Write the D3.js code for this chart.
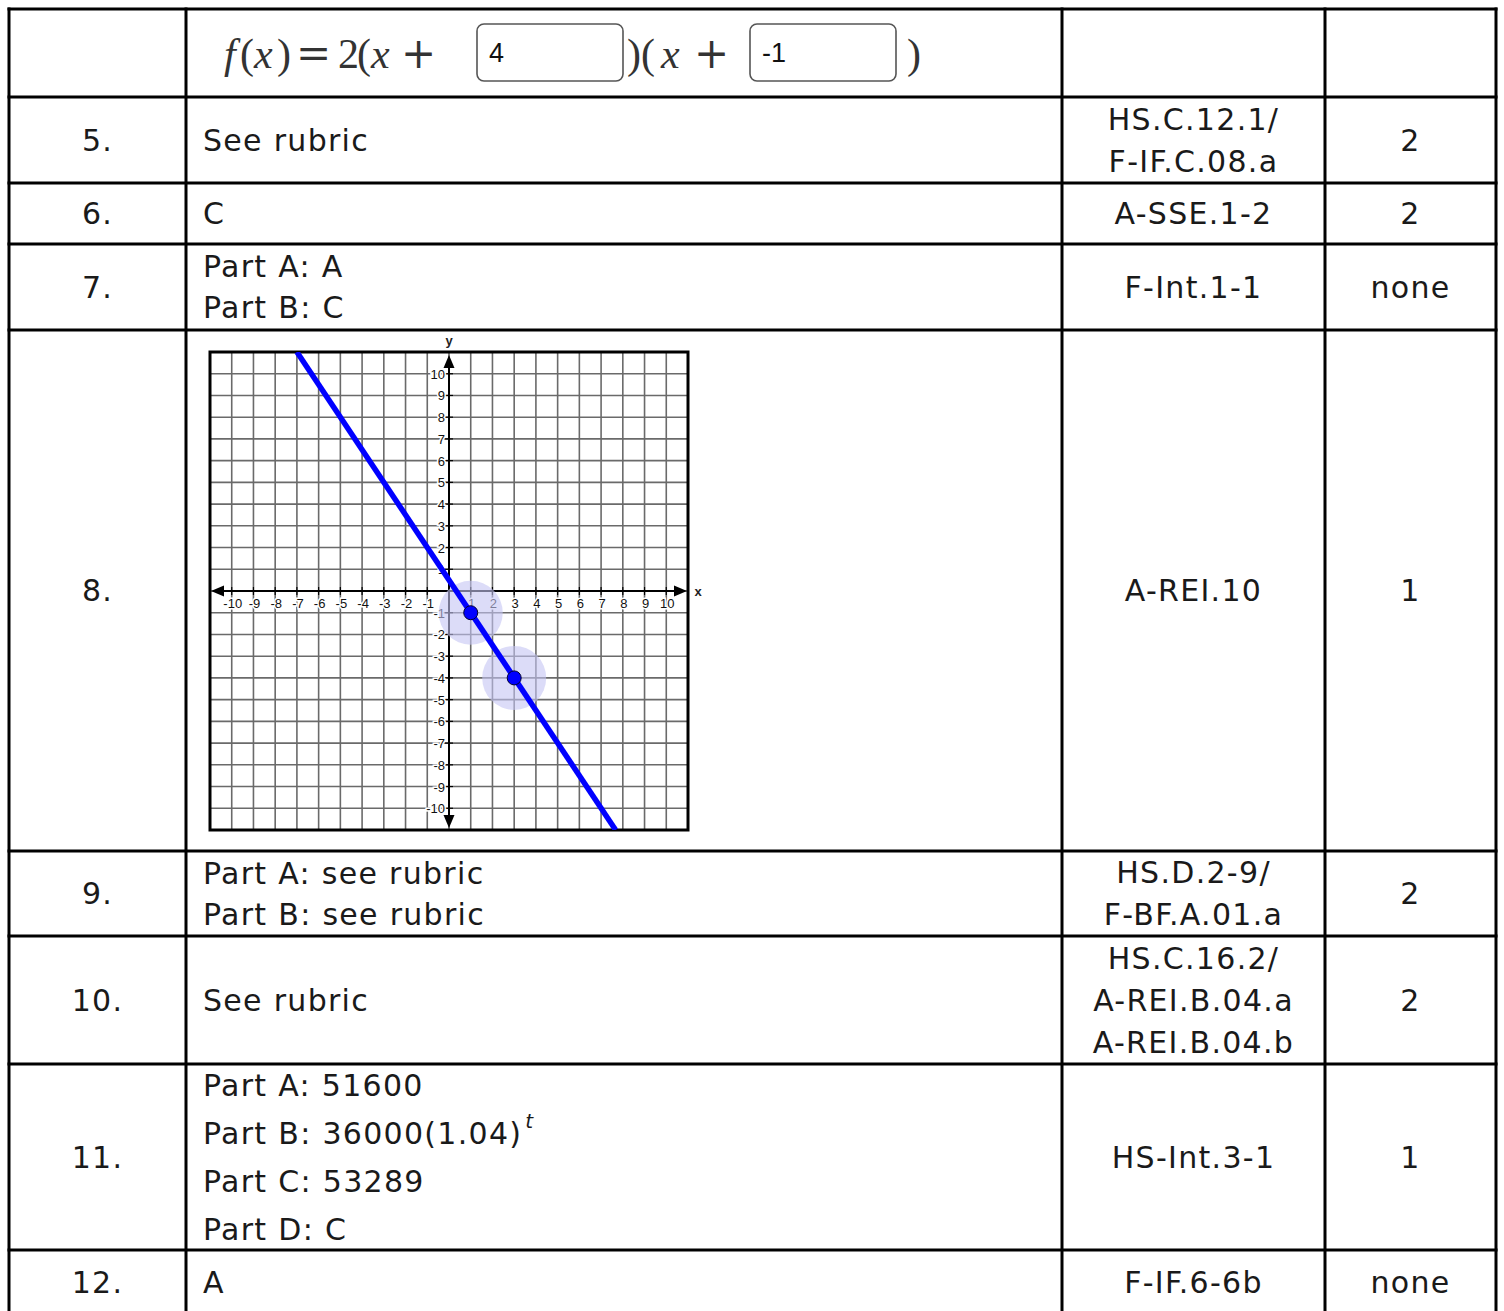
<!DOCTYPE html>
<html>
<head>
<meta charset="utf-8">
<script src="https://cdn.jsdelivr.net/npm/d3@7"></script>
<style>
  body { margin: 0; background: #fff; }
</style>
</head>
<body>
<div id="chart"></div>
<script>
// table data
const itemNums = ["", "5.", "6.", "7.", "8.", "9.", "10.", "11.", "12."];
const answers = [
  null,
  ["See rubric"],
  ["C"],
  ["Part A: A", "Part B: C"],
  null,
  ["Part A: see rubric", "Part B: see rubric"],
  ["See rubric"],
  ["Part A: 51600", "Part B: 36000(1.04)", "Part C: 53289", "Part D: C"],
  ["A"]
];
const standards = [
  [],
  ["HS.C.12.1/", "F-IF.C.08.a"],
  ["A-SSE.1-2"],
  ["F-Int.1-1"],
  ["A-REI.10"],
  ["HS.D.2-9/", "F-BF.A.01.a"],
  ["HS.C.16.2/", "A-REI.B.04.a", "A-REI.B.04.b"],
  ["HS-Int.3-1"],
  ["F-IF.6-6b"]
];
const pointsCol = ["", "2", "2", "none", "1", "2", "2", "1", "none"];
const boxValues = ["4", "-1"];

// graph data (item 8)
const gridTicks = [-10, -9, -8, -7, -6, -5, -4, -3, -2, -1, 0, 1, 2, 3, 4, 5, 6, 7, 8, 9, 10];
const plotted = [[1, -1], [3, -4]];
const lineEnds = [[-7, 11], [7.67, -11]];

// layout
const W = 1504, H = 1311;
const colEdges = [9, 186, 1062, 1325, 1496];
const rowEdges = [9, 97, 183, 244, 330, 851, 936, 1064, 1250, 1314];
const font = "'DejaVu Sans', Verdana, sans-serif";

const svg = d3.select("#chart").append("svg")
  .attr("width", W).attr("height", H);

const rowMid = i => (rowEdges[i] + rowEdges[i + 1]) / 2;
const colMid = i => (colEdges[i] + colEdges[i + 1]) / 2;

// multi-line cell helper
const cellText = (g, lines, x, cy, anchor, lh) => {
  const t = g.append("text")
    .attr("text-anchor", anchor)
    .attr("font-family", font)
    .attr("font-size", 30)
    .attr("letter-spacing", 1.3)
    .attr("fill", "#1a1a1a");
  lines.forEach((s, k) => {
    t.append("tspan")
      .attr("x", x)
      .attr("y", cy + (k - (lines.length - 1) / 2) * lh)
      .attr("dy", "0.36em")
      .text(s);
  });
  return t;
};

const cells = svg.append("g");
itemNums.forEach((n, i) => {
  const cy = rowMid(i);
  if (n) cellText(cells, [n], colMid(0), cy, "middle", 41);
  if (answers[i]) {
    const lh = answers[i].length > 2 ? 48 : 41;
    const t = cellText(cells, answers[i], 203, cy, "start", lh);
    if (i === 7) {
      // superscript t on Part B
      t.selectAll("tspan").filter((d, k) => k === 1)
        .append("tspan").attr("dy", "-0.8em").attr("dx", 3)
        .attr("font-size", 20).attr("font-style", "italic").text("t");
    }
  }
  if (standards[i].length) cellText(cells, standards[i], colMid(2), cy, "middle", 42);
  if (pointsCol[i]) cellText(cells, [pointsCol[i]], colMid(3), cy, "middle", 41);
});

// formula row
const serif = "'Liberation Serif', 'DejaVu Serif', serif";
const opSerif = "'DejaVu Serif', serif";
const fm = svg.append("g").attr("font-size", 42).attr("fill", "#333");
const fParts = [
  ["f", 224, true, serif], ["(", 240, false, serif], ["x", 254, true, serif], [")", 277, false, serif],
  ["=", 296, false, opSerif], ["2", 338, false, serif], ["(", 357, false, serif], ["x", 371, true, serif],
  ["+", 401, false, opSerif],
  [")(", 627, false, serif], ["x", 661, true, serif], ["+", 694, false, opSerif], [")", 907, false, serif]
];
fParts.forEach(([s, x, it, ff]) => {
  fm.append("text").attr("x", x).attr("y", 68)
    .attr("font-family", ff)
    .attr("font-style", it ? "italic" : "normal").text(s);
});
const boxX = [477, 750];
boxValues.forEach((v, k) => {
  svg.append("rect")
    .attr("x", boxX[k]).attr("y", 24).attr("width", 146).attr("height", 57)
    .attr("rx", 7).attr("fill", "#fff").attr("stroke", "#555").attr("stroke-width", 1.6);
  svg.append("text")
    .attr("x", boxX[k] + 12).attr("y", 62)
    .attr("font-family", "'Liberation Sans', Arial, sans-serif")
    .attr("font-size", 27).attr("fill", "#111").text(v);
});

// graph
const gx = d3.scaleLinear().domain([-11, 11]).range([210, 688]);
const gy = d3.scaleLinear().domain([-11, 11]).range([830, 352]);
const graph = svg.append("g");

graph.append("g").selectAll("line.v").data(gridTicks).join("line")
  .attr("x1", d => gx(d)).attr("x2", d => gx(d))
  .attr("y1", gy(11)).attr("y2", gy(-11))
  .attr("stroke", "#6a6a6a").attr("stroke-width", 1.6);
graph.append("g").selectAll("line.h").data(gridTicks).join("line")
  .attr("y1", d => gy(d)).attr("y2", d => gy(d))
  .attr("x1", gx(-11)).attr("x2", gx(11))
  .attr("stroke", "#6a6a6a").attr("stroke-width", 1.6);

// axes with arrows
const axisCol = "#000";
graph.append("line")
  .attr("x1", gx(-11) + 8).attr("x2", gx(11) - 8)
  .attr("y1", gy(0)).attr("y2", gy(0))
  .attr("stroke", axisCol).attr("stroke-width", 2);
graph.append("line")
  .attr("x1", gx(0)).attr("x2", gx(0))
  .attr("y1", gy(11) + 8).attr("y2", gy(-11) - 8)
  .attr("stroke", axisCol).attr("stroke-width", 2);
const arrow = (x, y, dx, dy) => {
  const L = 13, w = 5.5;
  const px = -dy, py = dx;
  return `M${x},${y}L${x - dx * L + px * w},${y - dy * L + py * w}L${x - dx * L - px * w},${y - dy * L - py * w}Z`;
};
[[gx(-11) + 1, gy(0), -1, 0], [gx(11) - 1, gy(0), 1, 0], [gx(0), gy(11) + 3, 0, -1], [gx(0), gy(-11) - 2, 0, 1]]
  .forEach(a => graph.append("path").attr("d", arrow(...a)).attr("fill", axisCol));

// ticks and labels
const labFont = "'Liberation Sans', Arial, sans-serif";
gridTicks.filter(d => d !== 0).forEach(d => {
  graph.append("line")
    .attr("x1", gx(d)).attr("x2", gx(d)).attr("y1", gy(0) - 4).attr("y2", gy(0) + 4)
    .attr("stroke", "#000").attr("stroke-width", 1.2);
  graph.append("line")
    .attr("y1", gy(d)).attr("y2", gy(d)).attr("x1", gx(0) - 4).attr("x2", gx(0) + 4)
    .attr("stroke", "#000").attr("stroke-width", 1.2);
  graph.append("text")
    .attr("x", gx(d) + 1).attr("y", gy(0) + 17)
    .attr("text-anchor", "middle").attr("font-family", labFont).attr("font-size", 13)
    .attr("stroke", "#fff").attr("stroke-width", 3).attr("paint-order", "stroke")
    .attr("fill", "#111").text(d);
  graph.append("text")
    .attr("x", gx(0) - 4).attr("y", gy(d) + 5)
    .attr("text-anchor", "end").attr("font-family", labFont).attr("font-size", 13)
    .attr("stroke", "#fff").attr("stroke-width", 3).attr("paint-order", "stroke")
    .attr("fill", "#111").text(d);
});
graph.append("text").attr("x", gx(0)).attr("y", gy(11) - 7)
  .attr("text-anchor", "middle").attr("font-family", labFont).attr("font-size", 13)
  .attr("font-weight", "bold").attr("fill", "#222").text("y");
graph.append("text").attr("x", gx(11) + 10).attr("y", gy(0) + 5)
  .attr("text-anchor", "middle").attr("font-family", labFont).attr("font-size", 13)
  .attr("font-weight", "bold").attr("fill", "#222").text("x");

// frame
graph.append("rect")
  .attr("x", gx(-11)).attr("y", gy(11))
  .attr("width", gx(11) - gx(-11)).attr("height", gy(-11) - gy(11))
  .attr("fill", "none").attr("stroke", "#000").attr("stroke-width", 3);

// plotted line, halos and points
svg.append("clipPath").attr("id", "frame").append("rect")
  .attr("x", gx(-11)).attr("y", gy(11))
  .attr("width", gx(11) - gx(-11)).attr("height", gy(-11) - gy(11));
graph.append("g").selectAll("circle").data(plotted).join("circle")
  .attr("cx", d => gx(d[0])).attr("cy", d => gy(d[1])).attr("r", 32)
  .attr("fill", "#c4c4f4").attr("opacity", 0.6);
graph.append("path")
  .attr("clip-path", "url(#frame)")
  .attr("d", d3.line().x(d => gx(d[0])).y(d => gy(d[1]))(lineEnds))
  .attr("stroke", "#0000ff").attr("stroke-width", 5.5).attr("fill", "none");
graph.append("g").selectAll("circle").data(plotted).join("circle")
  .attr("cx", d => gx(d[0])).attr("cy", d => gy(d[1])).attr("r", 7)
  .attr("fill", "#0000ff").attr("stroke", "#000033").attr("stroke-width", 1);

// table borders
const borders = svg.append("g").attr("stroke", "#000").attr("stroke-width", 3);
borders.selectAll("line.r").data(rowEdges.slice(0, -1)).join("line")
  .attr("x1", colEdges[0] - 1.5).attr("x2", colEdges[4] + 1.5)
  .attr("y1", d => d).attr("y2", d => d);
borders.selectAll("line.c").data(colEdges).join("line")
  .attr("x1", d => d).attr("x2", d => d)
  .attr("y1", rowEdges[0] - 1.5).attr("y2", H);
</script>
</body>
</html>
